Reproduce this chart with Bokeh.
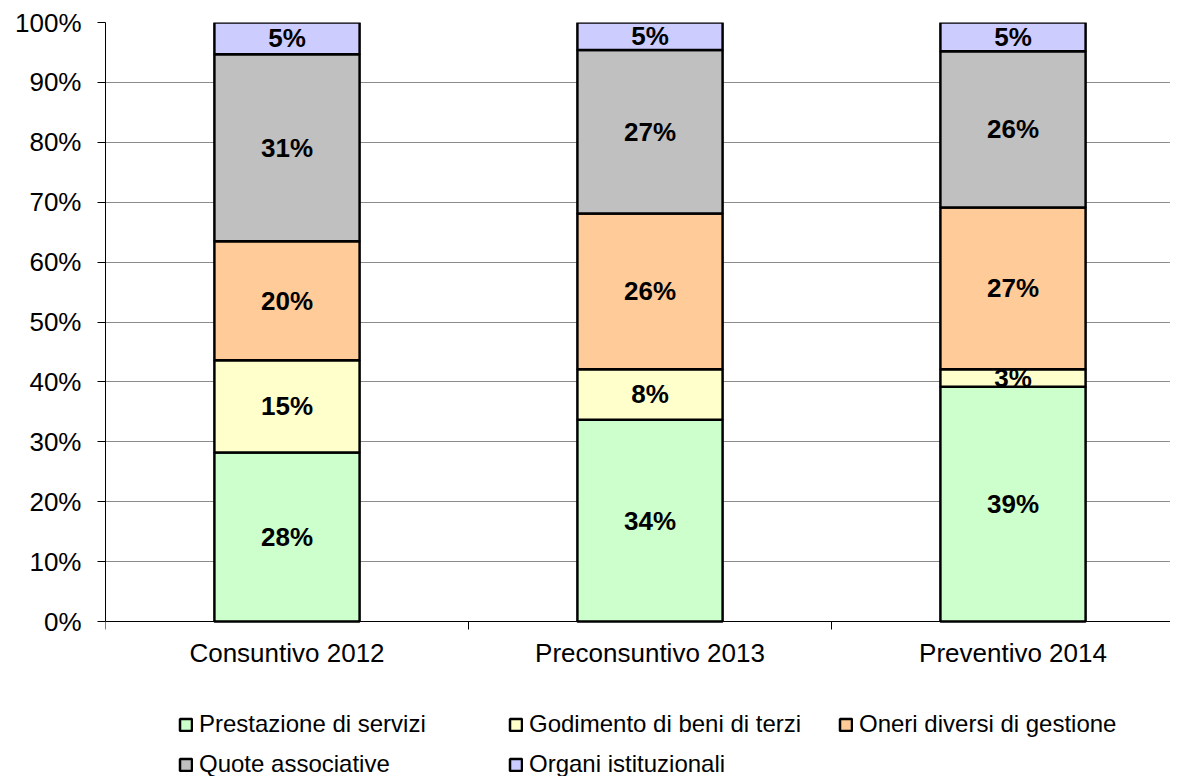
from bokeh.plotting import figure
from bokeh.models import (ColumnDataSource, Range1d, FixedTicker, PrintfTickFormatter,
                          Legend, LegendItem)
from bokeh.core.properties import value
from bokeh.embed import file_html
from bokeh.resources import INLINE

categories = ["Consuntivo 2012", "Preconsuntivo 2013", "Preventivo 2014"]
series_names = ["Prestazione di servizi", "Godimento di beni di terzi",
                "Oneri diversi di gestione", "Quote associative", "Organi istituzionali"]
prestazione = [28.2, 33.7, 39.2]
godimento = [15.4, 8.4, 2.9]
oneri = [19.9, 26.0, 27.0]
quote = [31.2, 27.3, 26.1]
organi = [5.3, 4.6, 4.8]
colors = ["#CCFFCC", "#FFFFCC", "#FFCC99", "#C0C0C0", "#CCCCFF"]
y_ticks = [0, 10, 20, 30, 40, 50, 60, 70, 80, 90, 100]

FONT = "Liberation Sans"
series = [prestazione, godimento, oneri, quote, organi]
keys = ["s0", "s1", "s2", "s3", "s4"]
xs = [i + 0.5 for i in range(len(categories))]

data = {"x": xs}
for k, s in zip(keys, series):
    data[k] = s
source = ColumnDataSource(data)

PX_PER_UNIT = 599 / 100.0
p = figure(width=1170, height=776, output_backend="svg", toolbar_location=None,
           x_range=Range1d(0, 1065 / 363), y_range=Range1d(-155 / PX_PER_UNIT, 100),
           min_border_left=105, min_border_right=0, min_border_top=22,
           min_border_bottom=0)
p.outline_line_color = None
p.background_fill_color = "white"
p.border_fill_color = "white"

renderers = p.vbar_stack(keys, x="x", width=0.4, source=source, color=colors,
                         line_color="black", line_width=2.5)

# labels
lx, ly, lt = [], [], []
for j in range(len(categories)):
    base = 0.0
    for s in series:
        v = s[j]
        lx.append(xs[j])
        ly.append(base + v / 2)
        lt.append(f"{round(v)}%")
        base += v
p.text(x=lx, y=ly, text=lt, text_font=value(FONT), text_font_size="26px",
       text_font_style="bold", text_align="center", text_baseline="middle",
       text_color="black")

# axes
p.xgrid.visible = False
p.ygrid.grid_line_color = "#8c8c8c"
p.ygrid.grid_line_width = 1

yax = p.yaxis[0]
yax.ticker = FixedTicker(ticks=y_ticks, minor_ticks=[])
yax.formatter = PrintfTickFormatter(format="%d%%")
yax.bounds = (0, 100)
yax.major_tick_out = 8
yax.major_tick_in = 0
yax.major_tick_line_color = "black"
yax.axis_line_color = "black"
yax.major_label_standoff = 16
yax.major_label_text_font = FONT
yax.major_label_text_font_size = "26px"
yax.major_label_text_color = "black"

xax = p.xaxis[0]
xax.fixed_location = 0
xax.ticker = FixedTicker(ticks=xs, minor_ticks=[0, 1, 2, 3])
xax.major_label_overrides = {x: c for x, c in zip(xs, categories)}
xax.major_tick_line_color = None
xax.major_tick_out = 0
xax.major_tick_in = 0
xax.minor_tick_out = 8
xax.minor_tick_in = 0
xax.minor_tick_line_color = "black"
xax.axis_line_color = "black"
xax.major_label_standoff = 8
xax.major_label_text_font = FONT
xax.major_label_text_font_size = "26px"
xax.major_label_text_color = "black"

items = [LegendItem(label=n, renderers=[r]) for n, r in zip(series_names, renderers)]
legend = Legend(items=items, orientation="horizontal", ncols=3, location=(73, -2),
                margin=0, padding=0, spacing=12, label_width=297, label_height=27,
                glyph_width=15, glyph_height=15, label_standoff=6,
                border_line_color=None, background_fill_alpha=0,
                label_text_font=FONT, label_text_font_size="24px",
                label_text_color="black", label_text_baseline="middle")
p.add_layout(legend, "center")

open("out.html", "w").write(file_html(p, INLINE))
